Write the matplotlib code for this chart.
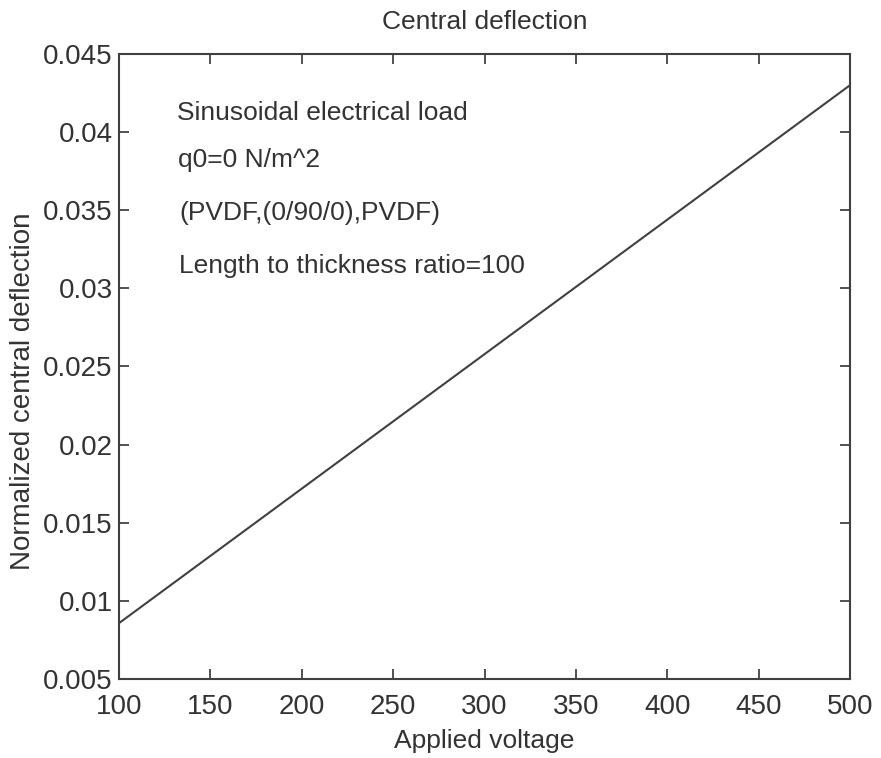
import matplotlib
matplotlib.use("Agg")
import matplotlib.pyplot as plt
import numpy as np

# applied voltage vs normalized central deflection (linear response)
voltage = [100, 500]
deflection = [0.00858, 0.0430]

xticks = [100, 150, 200, 250, 300, 350, 400, 450, 500]
yticks = [0.005, 0.01, 0.015, 0.02, 0.025, 0.03, 0.035, 0.04, 0.045]
ytick_labels = ["0.005", "0.01", "0.015", "0.02", "0.025", "0.03", "0.035", "0.04", "0.045"]

notes = [
    "Sinusoidal electrical load",
    "q0=0 N/m^2",
    "(PVDF,(0/90/0),PVDF)",
    "Length to thickness ratio=100",
]
note_x = [132, 132.5, 133, 133]
note_y = [0.0412, 0.0382, 0.0348, 0.0314]

plt.rcParams['font.family'] = ['Liberation Sans', 'DejaVu Sans']
plt.rcParams['text.color'] = '#333333'

fig = plt.figure(figsize=(8.81, 7.58), dpi=100)
ax = fig.add_axes([0.135, 0.104, 0.830, 0.825])

ax.plot(voltage, deflection, color='#404040', lw=1.5)

ax.set_xlim(100, 500)
ax.set_ylim(0.005, 0.045)
ax.set_xticks(xticks)
ax.set_yticks(yticks)
ax.set_yticklabels(ytick_labels)
ax.tick_params(direction='in', top=True, right=True, labelsize=20,
               colors='#333333', length=7, width=1.2)
ax.tick_params(axis='x', pad=11)
ax.tick_params(axis='y', pad=4.5)
for s in ax.spines.values():
    s.set_color('#404040')
    s.set_linewidth(1.5)

for t, x, y in zip(notes, note_x, note_y):
    ax.text(x, y, t, fontsize=19, va='center', ha='left', color='#333333')

ax.set_title("Central deflection", fontsize=19, color='#333333', pad=18)
ax.set_xlabel("Applied voltage", fontsize=19, color='#333333', labelpad=6)
ax.set_ylabel("Normalized central deflection", fontsize=20, color='#333333')
ax.yaxis.set_label_coords(-0.114, 0.46)

fig.savefig("out.png", dpi=100)
